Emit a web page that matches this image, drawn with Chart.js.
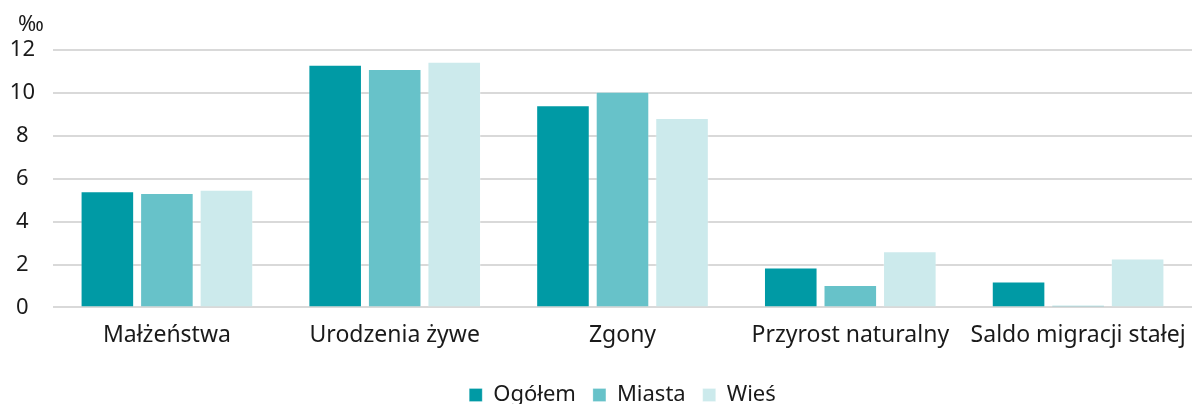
<!DOCTYPE html>
<html>
<head>
<meta charset="utf-8">
<script src="https://cdn.jsdelivr.net/npm/chart.js@4/dist/chart.umd.min.js"></script>
<style>
  html, body { margin: 0; padding: 0; background: #fff; overflow: hidden; }
  #wrap { position: relative; width: 1192px; height: 416px; }
</style>
</head>
<body>
<div id="wrap"><canvas id="c"></canvas></div>
<script>
const categories = ['Małżeństwa', 'Urodzenia żywe', 'Zgony', 'Przyrost naturalny', 'Saldo migracji stałej'];
const ogolem = [5.42, 11.31, 9.43, 1.86, 1.21];
const miasta = [5.33, 11.12, 10.05, 1.04, 0.10];
const wies   = [5.48, 11.45, 8.83, 2.62, 2.28];
const seriesNames = ['Ogółem', 'Miasta', 'Wieś'];
const yUnit = '‰';
const yMin = 0, yMax = 12, yStep = 2;

const colors = ['#009aa5', '#67c2c9', '#cceaec'];
const FONT = '"Noto Sans", "DejaVu Sans", sans-serif';

const unitPlugin = {
  id: 'unitLabel',
  afterDraw(chart) {
    const ys = chart.scales.y;
    const ctx = chart.ctx;
    ctx.save();
    ctx.font = '22px ' + FONT;
    ctx.fillStyle = '#1a1a1a';
    ctx.textAlign = 'left';
    ctx.textBaseline = 'middle';
    ctx.fillText(yUnit, ys.left + 8, chart.chartArea.top - 25);
    ctx.restore();
  }
};

new Chart(document.getElementById('c'), {
  type: 'bar',
  data: {
    labels: categories,
    datasets: [ogolem, miasta, wies].map((d, i) => ({
      label: seriesNames[i],
      data: d,
      backgroundColor: colors[i],
      borderColor: 'rgba(255,255,255,0.25)',
      borderWidth: 1,
      categoryPercentage: 0.784,
      barPercentage: 0.9
    }))
  },
  options: {
    responsive: true,
    maintainAspectRatio: false,
    animation: false,
    layout: { padding: { top: 50, left: 10, right: 0, bottom: 0 } },
    plugins: {
      legend: {
        position: 'bottom',
        fullSize: false,
        labels: {
          font: { family: FONT, size: 22 },
          color: '#1a1a1a',
          boxWidth: 13,
          boxHeight: 13,
          padding: 17,
          useBorderRadius: false
        }
      },
      tooltip: { enabled: false }
    },
    scales: {
      x: {
        grid: { display: false },
        border: { display: false },
        afterFit(scale) { scale.height += 12; scale.paddingLeft = 0; scale.paddingRight = 0; },
        ticks: { font: { family: FONT, size: 23 }, color: '#1a1a1a', padding: 6, maxRotation: 0 }
      },
      y: {
        min: yMin, max: yMax,
        border: { display: false },
        grid: { color: '#d9d9d9', lineWidth: 2, drawTicks: false },
        afterFit(scale) { scale.width = 43; },
        ticks: {
          stepSize: yStep,
          font: { family: FONT, size: 22 },
          color: '#1a1a1a',
          padding: 18,
          crossAlign: 'center'
        }
      }
    }
  },
  plugins: [unitPlugin]
});
</script>
</body>
</html>
